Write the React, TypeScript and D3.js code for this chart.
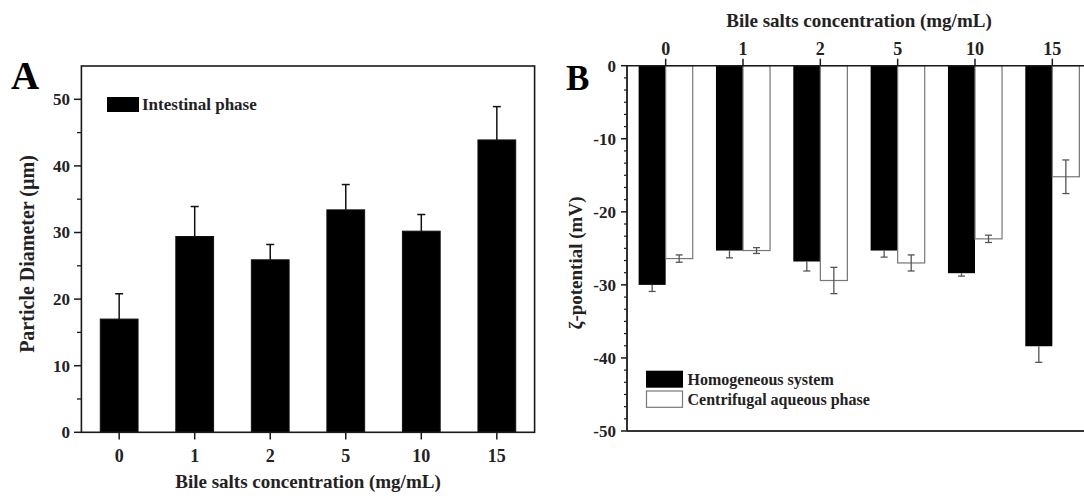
import React from 'react';
import * as d3 from 'd3';

const categories = ['0', '1', '2', '5', '10', '15'];
const diameter = [17.0, 29.4, 25.9, 33.4, 30.2, 43.9];
const diameterErr = [3.8, 4.5, 2.3, 3.8, 2.5, 5.0];
const homogeneous = [-30.0, -25.3, -26.8, -25.3, -28.4, -38.4];
const homogeneousErr = [0.9, 1.0, 1.3, 0.9, 0.4, 2.2];
const centrifugal = [-26.4, -25.3, -29.4, -27.0, -23.7, -15.2];
const centrifugalErr = [0.5, 0.4, 1.8, 1.1, 0.5, 2.3];
const seriesB = ['Homogeneous system', 'Centrifugal aqueous phase'];
const ticksA = [0, 10, 20, 30, 40, 50];
const ticksB = [0, -10, -20, -30, -40, -50];

const FONT = "'Liberation Serif', 'Times New Roman', serif";
const INK = '#1a1a1a';

export default function App() {
  // Panel A scales
  const xA = d3.scaleBand<string>().domain(categories).range([81.4, 534.6]).paddingInner(0.5).paddingOuter(0.25);
  const yA = d3.scaleLinear().domain([0, 55]).range([432.3, 66]);
  const minorA = d3.range(5, 50, 10);

  // Panel B scales
  const xB = d3.scaleBand<string>().domain(categories).range([627, 1091]).padding(0);
  const sub = d3.scaleBand<string>().domain(seriesB).range([0, xB.bandwidth()]).paddingInner(0).paddingOuter(0.43);
  const yB = d3.scaleLinear().domain([-50, 0]).range([431, 65.7]);
  const minorB = d3.range(0, -50, -10 / 6).filter((v) => Math.abs(v / 10 - Math.round(v / 10)) > 0.01);

  const cA = (c: string) => (xA(c) as number) + xA.bandwidth() / 2;
  const cB = (c: string) => (xB(c) as number) + xB.bandwidth() / 2;

  const bLeft = 627;
  const bRight = 1084;

  return (
    <svg width={1084} height={496} style={{ position: 'absolute', left: 0, top: 0, background: '#fff' }} fontFamily={FONT} fontWeight="bold">
      {/* ================= Panel A ================= */}
      <text x={11} y={89} fontSize={39} fill="#000">A</text>
      {/* bars */}
      {categories.map((c, i) => (
        <rect key={'ba' + c} x={xA(c)} y={yA(diameter[i])} width={xA.bandwidth()} height={yA(0) - yA(diameter[i])} fill="#000" stroke="#111" strokeWidth={1} />
      ))}
      {/* error bars */}
      {categories.map((c, i) => {
        const x = cA(c);
        const top = yA(diameter[i] + diameterErr[i]);
        return (
          <g key={'ea' + c} stroke="#111" strokeWidth={1.5}>
            <line x1={x} x2={x} y1={yA(diameter[i])} y2={top} />
            <line x1={x - 4} x2={x + 4} y1={top} y2={top} />
          </g>
        );
      })}
      {/* frame */}
      <rect x={81.4} y={66} width={534.6 - 81.4} height={432.3 - 66} fill="none" stroke={INK} strokeWidth={1.6} />
      {/* y ticks */}
      {ticksA.map((t) => (
        <g key={'ta' + t}>
          <line x1={74} x2={81.4} y1={yA(t)} y2={yA(t)} stroke={INK} strokeWidth={1.5} />
          <text x={70} y={yA(t)} dy="0.35em" textAnchor="end" fontSize={17} fill="#222">{t}</text>
        </g>
      ))}
      {minorA.map((t) => (
        <line key={'ma' + t} x1={77} x2={81.4} y1={yA(t)} y2={yA(t)} stroke={INK} strokeWidth={1.3} />
      ))}
      {/* x ticks */}
      {categories.map((c) => (
        <g key={'xa' + c}>
          <line x1={cA(c)} x2={cA(c)} y1={432.3} y2={439.5} stroke={INK} strokeWidth={1.5} />
          <text x={cA(c)} y={462} textAnchor="middle" fontSize={18} fill="#222">{c}</text>
        </g>
      ))}
      <text x={(81.4 + 534.6) / 2} y={488} textAnchor="middle" fontSize={19} fill="#222">Bile salts concentration (mg/mL)</text>
      <text transform={`translate(34,254) rotate(-90)`} textAnchor="middle" fontSize={20} fill="#222">Particle Diameter (µm)</text>
      {/* legend A */}
      <rect x={107} y={97} width={32} height={15} fill="#000" />
      <text x={142} y={110} fontSize={17} fill="#222">Intestinal phase</text>

      {/* ================= Panel B ================= */}
      <text x={566} y={90} fontSize={35} fill="#000">B</text>
      {/* bars */}
      {categories.map((c, i) => (
        <g key={'bb' + c}>
          <rect x={(xB(c) as number) + (sub(seriesB[0]) as number)} y={yB(0)} width={sub.bandwidth()} height={yB(homogeneous[i]) - yB(0)} fill="#000" />
          <rect x={(xB(c) as number) + (sub(seriesB[1]) as number)} y={yB(0)} width={sub.bandwidth()} height={yB(centrifugal[i]) - yB(0)} fill="#fff" stroke="#777" strokeWidth={1.2} />
        </g>
      ))}
      {/* error bars B */}
      {categories.map((c, i) => {
        const xh = (xB(c) as number) + (sub(seriesB[0]) as number) + sub.bandwidth() / 2;
        const xc = (xB(c) as number) + (sub(seriesB[1]) as number) + sub.bandwidth() / 2;
        const hb = yB(homogeneous[i] - homogeneousErr[i]);
        const ct = yB(centrifugal[i] + centrifugalErr[i]);
        const cb = yB(centrifugal[i] - centrifugalErr[i]);
        return (
          <g key={'eb' + c} stroke="#555" strokeWidth={1.3}>
            <line x1={xh} x2={xh} y1={yB(homogeneous[i])} y2={hb} />
            <line x1={xh - 3.5} x2={xh + 3.5} y1={hb} y2={hb} />
            <line x1={xc} x2={xc} y1={ct} y2={cb} />
            <line x1={xc - 3.5} x2={xc + 3.5} y1={ct} y2={ct} />
            <line x1={xc - 3.5} x2={xc + 3.5} y1={cb} y2={cb} />
          </g>
        );
      })}
      {/* axes B */}
      <line x1={bLeft} x2={bRight} y1={yB(0)} y2={yB(0)} stroke={INK} strokeWidth={1.6} />
      <line x1={bLeft} x2={bRight} y1={yB(-50)} y2={yB(-50)} stroke="#333" strokeWidth={1.8} />
      <line x1={bLeft} x2={bLeft} y1={yB(0)} y2={yB(-50)} stroke={INK} strokeWidth={1.8} />
      {ticksB.map((t) => (
        <g key={'tb' + t}>
          <line x1={621} x2={bLeft} y1={yB(t)} y2={yB(t)} stroke={INK} strokeWidth={1.5} />
          <text x={616} y={yB(t)} dy="0.35em" textAnchor="end" fontSize={17} fill="#222">{t === 0 ? '0' : '-' + Math.abs(t)}</text>
        </g>
      ))}
      {minorB.map((t, k) => (
        <line key={'mb' + k} x1={624} x2={bLeft} y1={yB(t)} y2={yB(t)} stroke={INK} strokeWidth={1.2} />
      ))}
      {categories.map((c) => (
        <g key={'xb' + c}>
          <line x1={cB(c)} x2={cB(c)} y1={yB(0)} y2={yB(0) - 7} stroke={INK} strokeWidth={1.5} />
          <text x={cB(c)} y={55} textAnchor="middle" fontSize={18} fill="#222">{c}</text>
        </g>
      ))}
      <text x={859} y={27} textAnchor="middle" fontSize={19} fill="#222">Bile salts concentration (mg/mL)</text>
      <text transform={`translate(582,263) rotate(-90)`} textAnchor="middle" fontSize={19} fill="#222">ζ-potential (mV)</text>
      {/* legend B */}
      <rect x={646} y={370.7} width={37} height={17} fill="#000" />
      <rect x={646.5} y={391} width={36} height={16.3} fill="#fff" stroke="#777" strokeWidth={1.2} />
      <text x={687.5} y={384.5} fontSize={16} fill="#222">{seriesB[0]}</text>
      <text x={687.5} y={404.5} fontSize={16} fill="#222">{seriesB[1]}</text>
    </svg>
  );
}
